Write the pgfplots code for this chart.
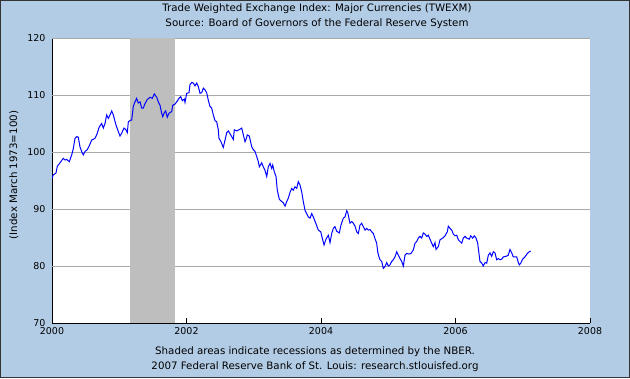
\documentclass[border=0pt]{standalone}
\usepackage{fontspec}
\setmainfont{DejaVu Sans}
\usepackage{pgfplots}
\pgfplotsset{compat=1.18}
\definecolor{bgblue}{HTML}{B3CCE5}
\definecolor{shade}{HTML}{BEBEBE}
\definecolor{gridgray}{HTML}{A9A9A9}
\begin{document}
\begin{tikzpicture}[x=1bp,y=1bp]
\path[use as bounding box] (0,0) rectangle (630,378);
\fill[bgblue] (0,0) rectangle (630,378);
\draw[black!80, line width=1.2bp] (0.6,0.6) rectangle (629.4,377.4);
\node[font=\fontsize{10.3}{12}\selectfont] at (317,369) {Trade Weighted Exchange Index: Major Currencies (TWEXM)};
\node[font=\fontsize{10.3}{12}\selectfont] at (317,354) {Source: Board of Governors of the Federal Reserve System};
\node[font=\fontsize{10.3}{12}\selectfont] at (315,26) {Shaded areas indicate recessions as determined by the NBER.};
\node[font=\fontsize{10.3}{12}\selectfont] at (315,11) {2007 Federal Reserve Bank of St. Louis: research.stlouisfed.org};
\node[font=\fontsize{10.3}{12}\selectfont, rotate=90] at (14,203) {(Index March 1973=100)};
\begin{axis}[
  at={(52bp,55bp)}, anchor=south west, scale only axis,
  width=538bp, height=285bp,
  xmin=2000, xmax=2008, ymin=70, ymax=120,
  axis background/.style={fill=white},
  axis x line*=bottom, axis y line*=left,
  axis line style={line width=1bp, -},
  xtick={2000,2002,2004,2006,2008},
  ytick={70,80,90,100,110,120},
  tick align=inside, major tick length=5bp,
  tick style={black, line width=1bp},
  extra y ticks={80,90,100,110,120},
  extra y tick labels={},
  extra y tick style={grid=major, major tick length=0pt},
  grid style={gridgray, line width=1bp},
  /pgf/number format/assume math mode=true,
  /pgf/number format/1000 sep={},
  ticklabel style={font=\fontsize{9.5}{11}\selectfont},
  xticklabel style={yshift=-1bp},
  yticklabel style={xshift=-3bp},
]
\addplot[fill=shade, draw=none] coordinates {(2001.167,70) (2001.167,120) (2001.833,120) (2001.833,70)} -- cycle;
\addplot[blue, line width=1bp, sharp plot] coordinates {
(2000.000,95.4) (2000.019,96.0) (2000.059,96.3) (2000.079,97.5) (2000.119,98.1)
(2000.168,98.9) (2000.193,98.6) (2000.219,98.7) (2000.257,98.3) (2000.293,99.5)
(2000.317,100.6) (2000.342,102.4) (2000.367,102.7) (2000.391,102.6) (2000.416,100.9)
(2000.451,99.8) (2000.465,99.5) (2000.491,100.1) (2000.525,100.4) (2000.555,101.1)
(2000.590,102.1) (2000.639,102.4) (2000.665,103.0) (2000.703,104.4) (2000.739,105.0)
(2000.763,104.2) (2000.788,105.0) (2000.813,106.5) (2000.837,105.9) (2000.862,106.5)
(2000.888,107.2) (2000.912,106.5) (2000.952,104.7) (2000.986,103.6) (2001.011,102.8)
(2001.036,103.3) (2001.071,104.2) (2001.100,103.9) (2001.120,103.4) (2001.135,105.3)
(2001.170,105.6) (2001.185,105.6) (2001.209,108.0) (2001.234,108.8) (2001.259,109.4)
(2001.283,108.6) (2001.309,108.8) (2001.334,107.7) (2001.358,107.7) (2001.383,108.5)
(2001.417,109.2) (2001.457,109.6) (2001.491,109.4) (2001.521,110.2) (2001.557,109.6)
(2001.581,108.8) (2001.606,108.2) (2001.631,106.8) (2001.646,106.2) (2001.670,106.9)
(2001.691,107.2) (2001.714,106.1) (2001.740,106.8) (2001.780,107.1) (2001.795,108.2)
(2001.829,108.4) (2001.854,108.8) (2001.888,109.4) (2001.914,109.7) (2001.938,109.0)
(2001.967,109.3) (2001.978,108.7) (2002.003,110.3) (2002.037,110.4) (2002.052,111.8)
(2002.077,112.2) (2002.101,112.1) (2002.126,111.6) (2002.152,112.1) (2002.175,111.5)
(2002.201,110.3) (2002.226,110.4) (2002.250,111.2) (2002.275,110.9) (2002.300,110.4)
(2002.324,109.1) (2002.349,108.0) (2002.374,107.7) (2002.399,106.5) (2002.424,105.5)
(2002.449,105.3) (2002.473,103.9) (2002.483,102.4) (2002.513,101.8) (2002.547,100.8)
(2002.573,102.1) (2002.598,103.4) (2002.622,103.7) (2002.647,103.2) (2002.672,102.7)
(2002.696,102.2) (2002.711,103.9) (2002.746,103.7) (2002.796,104.0) (2002.821,104.2)
(2002.845,103.0) (2002.870,101.8) (2002.885,102.2) (2002.904,103.0) (2002.934,102.8)
(2002.970,100.9) (2002.993,100.4) (2003.019,100.1) (2003.044,99.2) (2003.068,98.3)
(2003.083,97.4) (2003.118,98.1) (2003.142,97.4) (2003.167,96.8) (2003.193,95.7)
(2003.216,97.4) (2003.242,98.0) (2003.267,97.1) (2003.282,97.7) (2003.306,96.5)
(2003.331,95.7) (2003.350,93.3) (2003.380,91.7) (2003.416,91.3) (2003.439,91.1)
(2003.465,90.5) (2003.490,91.3) (2003.514,91.9) (2003.539,92.9) (2003.564,93.6)
(2003.588,93.3) (2003.613,93.9) (2003.639,93.6) (2003.662,94.8) (2003.688,94.2)
(2003.713,93.0) (2003.737,91.3) (2003.762,89.8) (2003.787,89.2) (2003.811,88.6)
(2003.836,88.4) (2003.862,89.2) (2003.886,88.6) (2003.926,87.4) (2003.960,86.3)
(2003.996,86.0) (2004.025,84.6) (2004.045,83.7) (2004.074,84.7) (2004.094,85.1)
(2004.109,85.4) (2004.134,84.1) (2004.159,85.7) (2004.183,86.6) (2004.208,86.9)
(2004.233,86.1) (2004.272,85.8) (2004.297,87.2) (2004.332,88.4) (2004.357,88.6)
(2004.382,89.7) (2004.397,89.4) (2004.431,87.5) (2004.457,87.8) (2004.480,87.5)
(2004.506,87.0) (2004.531,86.0) (2004.555,85.7) (2004.580,87.2) (2004.605,87.5)
(2004.629,86.9) (2004.654,86.3) (2004.680,86.6) (2004.703,86.3) (2004.729,86.4)
(2004.754,86.0) (2004.778,85.7) (2004.803,84.8) (2004.828,84.0) (2004.843,82.5)
(2004.862,81.6) (2004.877,81.1) (2004.903,80.8) (2004.926,79.6) (2004.952,79.9)
(2004.977,80.6) (2005.001,80.0) (2005.026,80.2) (2005.051,80.8) (2005.075,81.1)
(2005.100,81.6) (2005.126,82.5) (2005.149,81.9) (2005.175,81.3) (2005.200,80.8)
(2005.224,80.0) (2005.249,81.9) (2005.274,82.2) (2005.309,82.1) (2005.338,82.2)
(2005.372,82.8) (2005.398,84.0) (2005.423,84.3) (2005.447,84.9) (2005.472,85.2)
(2005.497,84.9) (2005.521,85.8) (2005.546,85.6) (2005.572,85.2) (2005.596,85.4)
(2005.621,84.7) (2005.646,84.0) (2005.670,83.4) (2005.695,84.1) (2005.710,82.9)
(2005.744,83.4) (2005.770,84.6) (2005.810,84.9) (2005.844,85.3) (2005.878,86.0)
(2005.893,87.0) (2005.918,86.6) (2005.944,86.3) (2005.967,85.6) (2005.993,85.3)
(2006.018,85.4) (2006.042,84.6) (2006.067,84.3) (2006.092,84.0) (2006.116,84.9)
(2006.141,85.2) (2006.166,84.9) (2006.205,84.7) (2006.226,85.3) (2006.256,84.9)
(2006.279,85.3) (2006.305,84.9) (2006.330,84.0) (2006.349,82.2) (2006.364,80.8)
(2006.390,80.5) (2006.413,80.0) (2006.439,80.6) (2006.464,80.5) (2006.488,81.9)
(2006.513,82.3) (2006.538,81.7) (2006.562,82.5) (2006.587,82.3) (2006.612,81.1)
(2006.636,81.3) (2006.662,81.1) (2006.687,81.2) (2006.711,81.6) (2006.751,81.7)
(2006.785,81.9) (2006.810,82.9) (2006.836,82.3) (2006.859,81.6) (2006.885,81.6)
(2006.910,81.6) (2006.934,80.6) (2006.949,80.2) (2006.970,80.5) (2006.999,81.2)
(2007.033,81.6) (2007.068,82.2) (2007.097,82.5) (2007.118,82.6)
};
\end{axis}
\end{tikzpicture}
\end{document}
